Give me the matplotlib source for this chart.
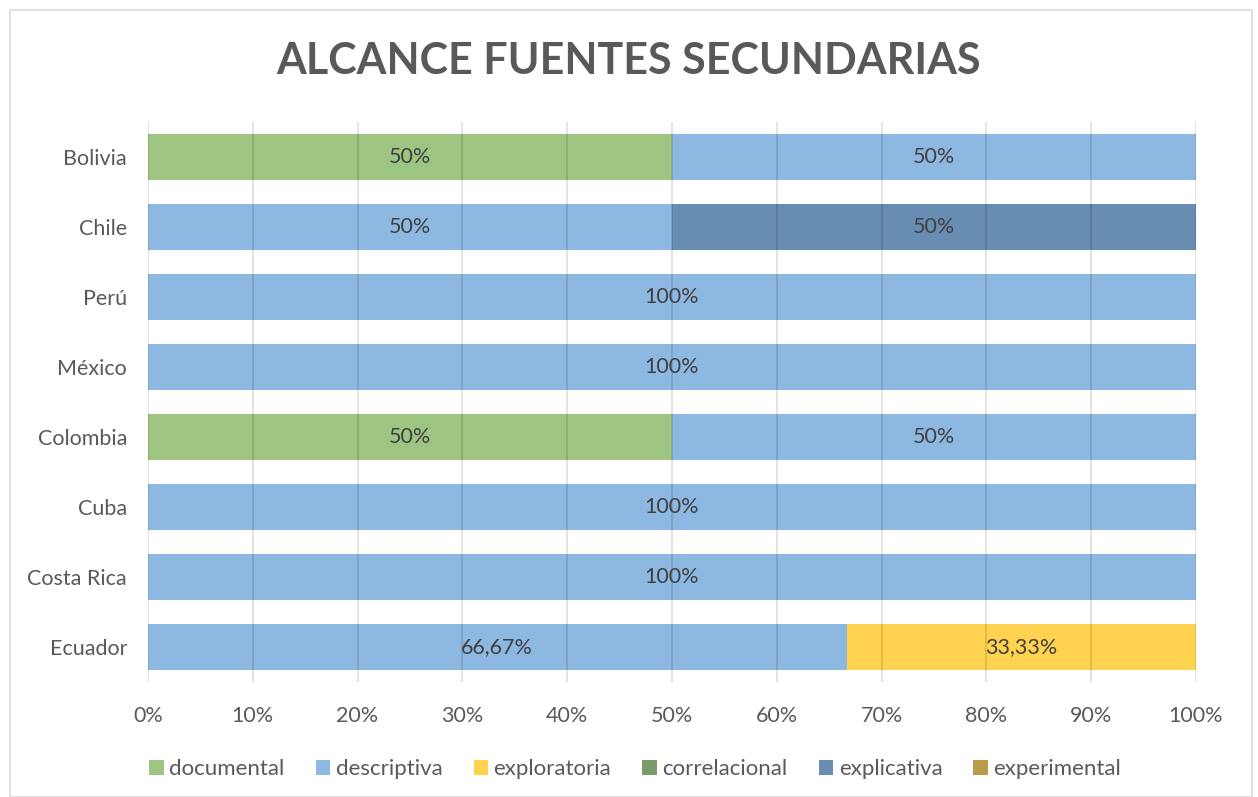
import numpy as np
import matplotlib.pyplot as plt
from matplotlib.patches import Rectangle

paises = ["Bolivia", "Chile", "Perú", "México", "Colombia", "Cuba", "Costa Rica", "Ecuador"]
series = ["documental", "descriptiva", "exploratoria", "correlacional", "explicativa", "experimental"]
documental = [50, 0, 0, 0, 50, 0, 0, 0]
descriptiva = [50, 50, 100, 100, 50, 100, 100, 66.67]
exploratoria = [0, 0, 0, 0, 0, 0, 0, 33.33]
correlacional = [0, 0, 0, 0, 0, 0, 0, 0]
explicativa = [0, 50, 0, 0, 0, 0, 0, 0]
experimental = [0, 0, 0, 0, 0, 0, 0, 0]
colores = ["#9DC581", "#8DB8E1", "#FFD34F", "#7A9B69", "#678DB2", "#B99B4A"]
xticks = [0, 10, 20, 30, 40, 50, 60, 70, 80, 90, 100]

plt.rcParams["font.family"] = ["Lato", "DejaVu Sans"]

fig = plt.figure(figsize=(12.58, 7.97), dpi=100)
fig.patches.append(Rectangle((0.008, 0.0), 0.987, 0.988, transform=fig.transFigure,
                             fill=False, edgecolor="#d9d9d9", linewidth=1.2))
ax = fig.add_axes([0.1176, 0.1443, 0.8331, 0.7026])

datos = [documental, descriptiva, exploratoria, correlacional, explicativa, experimental]
y = np.arange(len(paises))
izq = np.zeros(len(paises))
for nombre, vals, col in zip(series, datos, colores):
    vals = np.array(vals, dtype=float)
    bars = ax.barh(y, vals, left=izq, height=0.66, color=col, label=nombre, zorder=2)
    for b, v in zip(bars, vals):
        if v > 0:
            txt = ("%.2f" % v).replace(".", ",") if v != int(v) else "%d" % v
            ax.text(b.get_x() + b.get_width() / 2, b.get_y() + b.get_height() / 2,
                    txt + "%", ha="center", va="center", fontsize=15.5, color="#404040", zorder=4)
    izq += vals

ax.set_xlim(0, 100)
ax.set_ylim(-0.5, len(paises) - 0.5)
ax.invert_yaxis()
ax.set_yticks(y)
ax.set_yticklabels(paises)
ax.set_xticks(xticks)
ax.set_xticklabels(["%d%%" % t for t in xticks])
for t in xticks:
    ax.axvline(t, color="#000000", alpha=0.12, linewidth=1.3, zorder=3)
ax.tick_params(axis="both", length=0, labelsize=15.5, labelcolor="#595959")
ax.tick_params(axis="x", pad=17)
ax.tick_params(axis="y", pad=15)
for s in ax.spines.values():
    s.set_visible(False)

fig.text(0.5, 0.923, "ALCANCE FUENTES SECUNDARIAS", fontsize=31, fontweight="bold",
         color="#595959", ha="center", va="center")

ax.legend(loc="center", bbox_to_anchor=(0.465, -0.156), ncol=6, frameon=False,
          fontsize=16, labelcolor="#595959", handlelength=0.65, handleheight=0.65,
          handletextpad=0.25, columnspacing=1.4)

fig.savefig("out.png", dpi=100)
